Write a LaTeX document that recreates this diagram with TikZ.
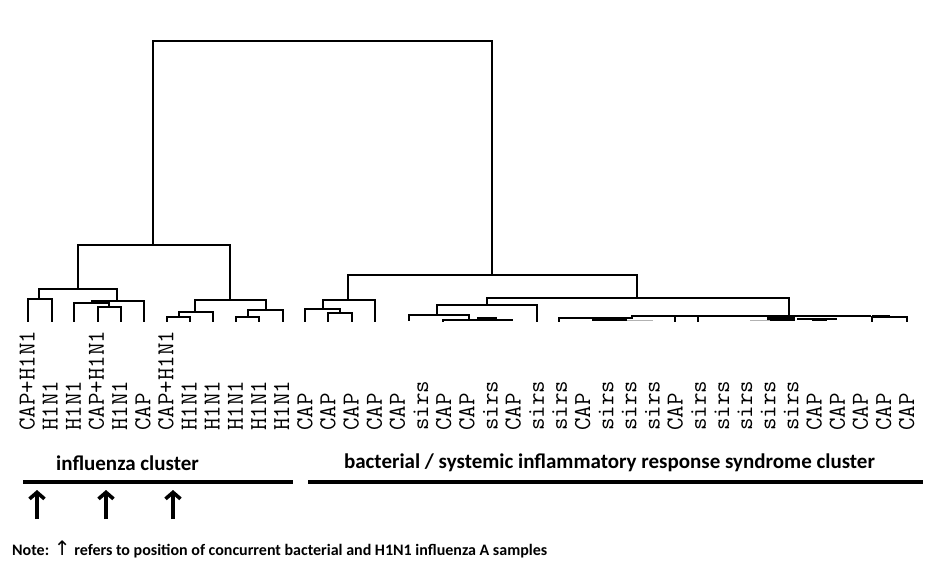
\documentclass[tikz,border=0pt]{standalone}
\usepackage{fontspec}
\setmainfont{Carlito}
\newfontfamily\arrowfont{DejaVu Sans}
\usetikzlibrary{arrows.meta}

\tikzset{
  branch/.style={line width=2pt},
  blob/.style={fill=black},
  faint/.style={line width=1.2pt, gray!60},
  leaflab/.style={rotate=90, anchor=west, inner sep=0pt, text height=0.6em,
                  text depth=0pt, font=\fontsize{24.3}{24.3}\selectfont\ttfamily},
  clusterlab/.style={inner sep=0pt, font=\fontsize{21}{24}\selectfont\bfseries},
  clusterbar/.style={line width=4pt},
  flag/.style={line width=3.6pt, -{Straight Barb[length=6.5pt,width=15pt]}}
}

\begin{document}
\begin{tikzpicture}[x=1pt,y=-1pt]
  \useasboundingbox[fill=white] (0,0) rectangle (927,569);

  % leaf labels
  \foreach \lab [count=\i from 0] in {CAP+H1N1,H1N1,H1N1,CAP+H1N1,H1N1,CAP,
      CAP+H1N1,H1N1,H1N1,H1N1,H1N1,H1N1,
      CAP,CAP,CAP,CAP,CAP,sirs,CAP,CAP,sirs,CAP,sirs,sirs,CAP,sirs,sirs,sirs,
      CAP,sirs,sirs,sirs,sirs,sirs,CAP,CAP,CAP,CAP,CAP}
    \node[leaflab] (leaf\i) at ({31.5+23.15*\i},431) {\lab};

  % top of the tree
  \draw[branch] (153,245) |- (492,41) -- (492,275);

  % influenza cluster
  \draw[branch] (78,289) |- (230,245) -- (230,300);
  \draw[branch] (39,299) |- (117,289) -- (117,301);
  \draw[branch] (28,322) |- (52,299) -- (52,322);
  \draw[branch] (92,303) |- (144,301) -- (144,322);
  \draw[branch] (74,322) |- (109,303) -- (109,307);
  \draw[branch] (98,322) |- (121,307) -- (121,322);
  \draw[branch] (195,312) |- (266,300) -- (266,310);
  \draw[branch] (179,317) |- (213,312) -- (213,322);
  \draw[branch] (167,322) |- (190,317) -- (190,322);
  \draw[branch] (248,317) |- (283,310) -- (283,322);
  \draw[branch] (236,322) |- (259,317) -- (259,322);

  % bacterial / sirs cluster
  \draw[branch] (348,300) |- (637,275) -- (637,298);
  \draw[branch] (323,309) |- (375,300) -- (375,322);
  \draw[branch] (305,322) |- (340,309) -- (340,313);
  \draw[branch] (328,322) |- (352,313) -- (352,322);
  \draw[branch] (487,305) |- (789,298) -- (789,316);
  \draw[branch] (437,315) |- (537,305) -- (537,322);
  \draw[branch] (409,321) |- (469,315) -- (469,320);
  \draw[branch] (443,322) |- (513,320);
  \fill[blob] (477,317.5) rectangle (497,321);

  \draw[branch] (559,322) |- (632,318) -- (632,316) -- (870,316) -- (870,317);
  \fill[blob] (592,317) rectangle (627,321);
  \draw[faint] (627,320.5) -- (653,320.5);
  \draw[branch] (675,316) -- (675,322);
  \draw[branch] (698,316) -- (698,322);
  \fill[blob] (767,315) rectangle (795,321);
  \draw[faint] (750,320.5) -- (770,320.5);
  \draw[branch] (797,319) -- (837,319);
  \fill[blob] (812,318) rectangle (827,321);
  \draw[branch] (872,322) |- (907,317) -- (907,322);
  \fill[blob] (872,315.5) rectangle (890,318);

  % cluster captions
  \node[clusterlab] (flu) at (127.5,463) {influenza cluster};
  \node[clusterlab] (bact) at (609.5,463)
    {bacterial / systemic inflammatory response syndrome cluster};
  \coordinate (flu-w) at (23,482);
  \coordinate (flu-e) at (293,482);
  \coordinate (bact-w) at (308,482);
  \coordinate (bact-e) at (923,482);
  \draw[clusterbar] (flu-w) -- (flu-e);
  \draw[clusterbar] (bact-w) -- (bact-e);

  % concurrent samples
  \foreach \x [count=\k] in {37,106,173}{
    \coordinate (up\k) at (\x,519);
    \coordinate (tip\k) at (\x,490);
    \draw[flag] (up\k) -- (tip\k);
  }

  \node[anchor=west, inner sep=0pt, font=\fontsize{16}{18}\selectfont\bfseries]
    (note) at (12,549)
    {Note: {\arrowfont\fontsize{20}{20}\selectfont\mdseries ↑} refers to position of concurrent bacterial and H1N1 influenza A samples};
\end{tikzpicture}
\end{document}
